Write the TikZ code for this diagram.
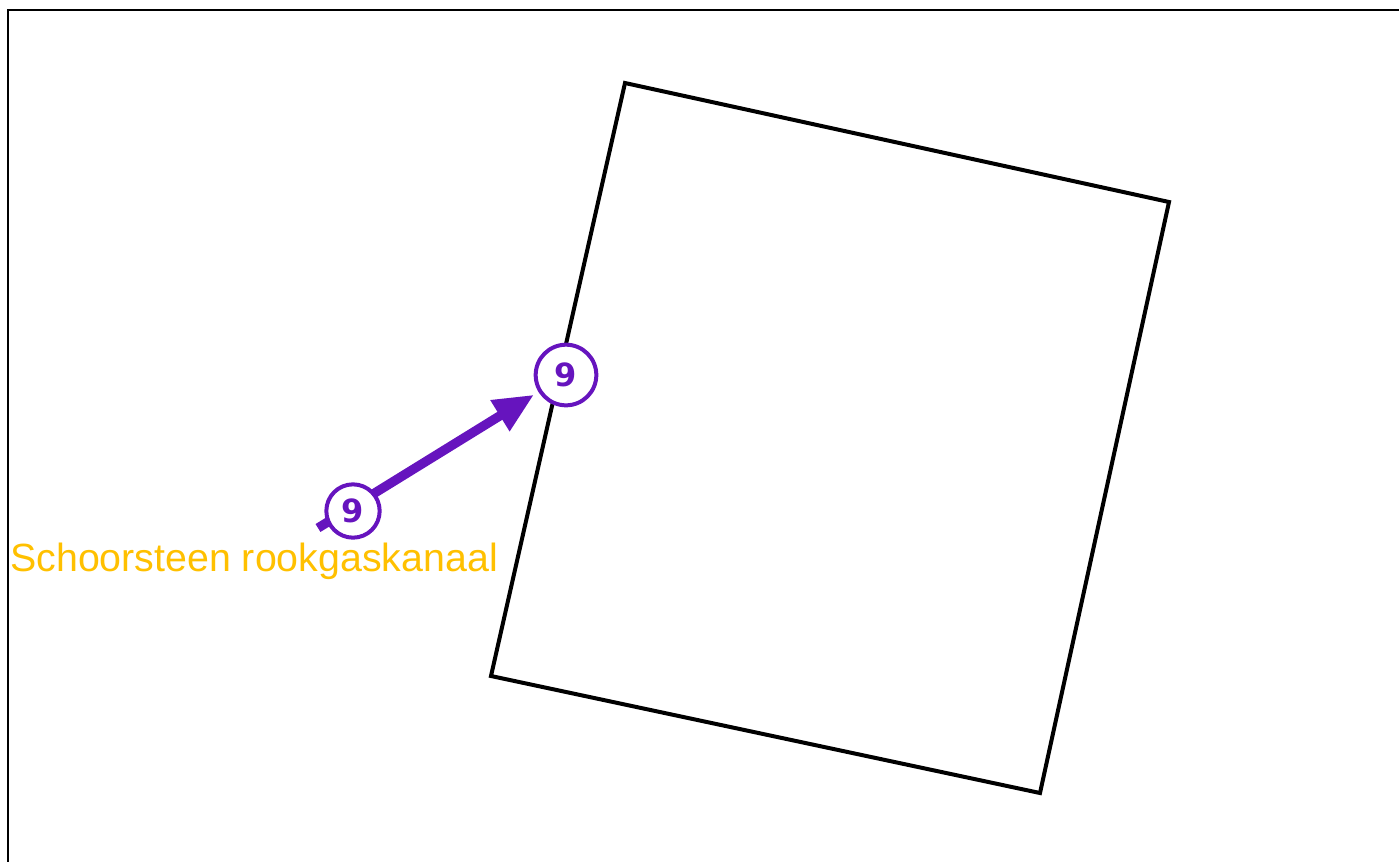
\documentclass[tikz,border=0pt]{standalone}
\usepackage{fontspec}
\setmainfont{Liberation Sans}
\newfontfamily\numfont{DejaVu Sans}
\usepackage{tikz}
\usetikzlibrary{arrows.meta}
\definecolor{markpurple}{RGB}{102,20,190}
\definecolor{labelgold}{RGB}{255,192,0}
\tikzstyle{frame} = [draw, line width=2pt]
\tikzstyle{wall} = [draw, line width=3pt, line join=miter]
\tikzstyle{marker} = [circle, draw=markpurple, line width=3pt, fill=white, text=markpurple, inner sep=0, font=\numfont\bfseries\fontsize{24}{24}\selectfont]
\tikzstyle{bigmark} = [marker, minimum size=45.5pt]
\tikzstyle{smallmark} = [marker, minimum size=40pt]
\tikzstyle{line} = [draw=markpurple, line width=7pt, -{Triangle[length=30pt,width=25.5pt]}, shorten >=4pt]
\tikzstyle{caption} = [text=labelgold, anchor=base west, inner sep=0, font=\fontsize{29.5}{35}\selectfont]

\begin{document}
\begin{tikzpicture}[x=0.75pt, y=-0.75pt]

\useasboundingbox (0,0) rectangle (1399,861);
\draw [frame] (8,880) -- (8,10) -- (1420,10);

% chimney outline
\draw [wall] (625,83) -- (1169,202) -- (1040,793) -- (491,676) -- cycle;

\node [bigmark] (A) at (566,375) {9};
\coordinate (tail) at (318,528);
\path [line] (tail) -- (A);
\node [smallmark] (B) at (353,511) {9};

\node [caption] (name) at (10,571) {Schoorsteen rookgaskanaal};

\end{tikzpicture}
\end{document}
